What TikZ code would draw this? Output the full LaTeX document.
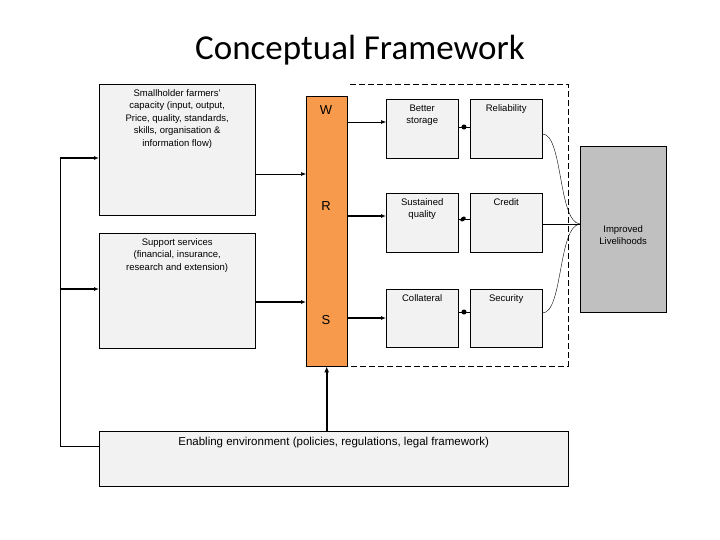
\documentclass[tikz,border=0pt]{standalone}
\usepackage{fontspec}
\setmainfont{Liberation Sans}
\newfontfamily\titlefont{Carlito}
\usetikzlibrary{positioning,arrows.meta}
\definecolor{barorange}{HTML}{F79A4B}
\definecolor{boxgray}{HTML}{F2F2F2}
\definecolor{outgray}{HTML}{C0C0C0}
\begin{document}
\begin{tikzpicture}[x=1pt,y=-1pt,
  box/.style={draw, fill=boxgray, inner sep=0pt, anchor=north west},
  txt/.style={font=\fontsize{9.5}{12.5}\selectfont, align=center, below=2pt},
  arr/.style={-{Latex[length=5pt,width=4pt]}, semithick},
  thk/.style={-{Latex[length=5pt,width=4pt]}, very thick},
  dot/.style={circle, fill=black, inner sep=1.8pt}
]
\useasboundingbox (0,0) rectangle (720,540);

% Title
\node[font=\titlefont\fontsize{35}{40}\selectfont] (title) at (360,50) {Conceptual Framework};

% Left column
\node[box, minimum width=156pt, minimum height=131pt] (farm) at (99,84) {};
\node[txt] at (farm.north) {Smallholder farmers'\\capacity (input, output,\\Price, quality, standards,\\skills, organisation \&\\information flow)};
\node[box, minimum width=156pt, minimum height=115pt] (supp) at (99,233) {};
\node[txt] at (supp.north) {Support services\\(financial, insurance,\\research and extension)};
\node[box, minimum width=469pt, minimum height=55pt] (env) at (99,431) {};
\node[font=\fontsize{11.5}{13}\selectfont, below=3pt] at (env.north) {Enabling environment (policies, regulations, legal framework)};

% WRS bar
\node[box, fill=barorange, minimum width=41pt, minimum height=270pt] (wrs) at (306,96) {};
\node[font=\fontsize{13}{14}\selectfont] (w) at (326,110) {W};
\node[font=\fontsize{13}{14}\selectfont] (r) at (326,206) {R};
\node[font=\fontsize{13}{14}\selectfont] (s) at (326,320) {S};

% Benefit boxes
\node[box, minimum width=72pt, minimum height=59pt] (stor) at (386,99) {};
\node[txt] at (stor.north) {Better\\storage};
\node[box, minimum width=72pt, minimum height=59pt] (reli) at (470,99) {};
\node[txt] at (reli.north) {Reliability};
\node[box, minimum width=72pt, minimum height=59pt] (qual) at (386,193) {};
\node[txt] at (qual.north) {Sustained\\quality};
\node[box, minimum width=72pt, minimum height=59pt] (cred) at (470,193) {};
\node[txt] at (cred.north) {Credit};
\node[box, minimum width=72pt, minimum height=58pt] (coll) at (386,289) {};
\node[txt] at (coll.north) {Collateral};
\node[box, minimum width=72pt, minimum height=58pt] (secu) at (470,289) {};
\node[txt] at (secu.north) {Security};

% Outcome
\node[box, fill=outgray, minimum width=86pt, minimum height=166pt] (liv) at (580,146) {};
\node[font=\fontsize{9.5}{12.5}\selectfont, align=center] at ([yshift=-6pt]liv.center) {Improved\\Livelihoods};

% Dashed boundary
\draw[dash pattern=on 6pt off 3pt] (350,84) -- (568,84) -- (568,366) -- (348,366);

% Feedback line from environment
\coordinate (fb) at (60,158);
\draw[semithick] (env.west |- 0,446) -- (60,446) -- (fb);
\draw[thk] (fb) -- (farm.west |- fb);
\draw[thk] (60,289) -- (supp.west |- 0,289);

% Into the bar
\draw[arr] (farm.east |- 0,174) -- (wrs.west |- 0,174);
\draw[thk] (supp.east |- 0,302) -- (wrs.west |- 0,302);
\draw[-{Latex[length=6pt,width=5pt]}, line width=1.6pt] (env.north -| wrs.south) -- (wrs.south);

% Out of the bar
\draw[arr] (wrs.east |- 0,122) -- (stor.west |- 0,122);
\draw[thk] (wrs.east |- 0,216) -- (qual.west |- 0,216);
\draw[thk] (wrs.east |- 0,318) -- (coll.west |- 0,318);

% Links between pairs
\draw (stor.east |- 0,127) -- (reli.west |- 0,127);
\node[dot] (d1) at (464,127) {};
\draw (qual.east |- 0,219) -- (cred.west |- 0,219);
\node[dot, rotate=40, xscale=1.6, inner sep=1.4pt] (d2) at (463,219) {};
\draw (coll.east |- 0,312) -- (secu.west |- 0,312);
\node[dot] (d3) at (464,312) {};

% To livelihoods
\coordinate (join) at (liv.west |- 0,224);
\draw (reli.east |- 0,134) .. controls (563,134) and (558,222) .. (join);
\draw (cred.east |- 0,224) -- (join);
\draw (secu.east |- 0,313) .. controls (563,313) and (558,226) .. (join);
\end{tikzpicture}
\end{document}
